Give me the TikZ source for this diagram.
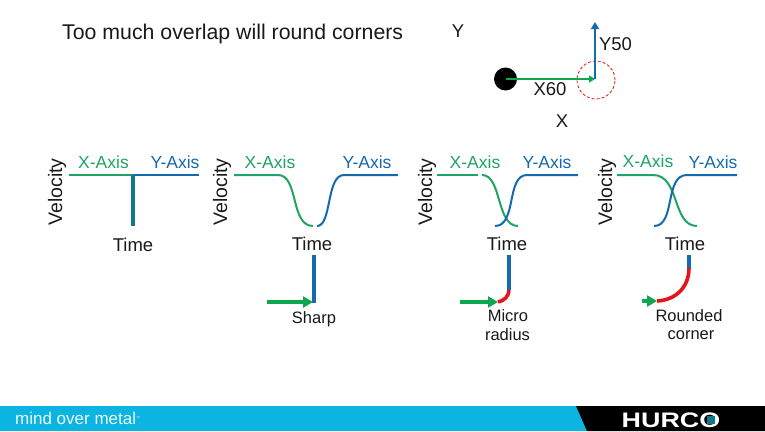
\documentclass[tikz,border=0pt]{standalone}
\usepackage{fontspec}
\setmainfont{Liberation Sans}
\usepackage{xcolor}
\usepackage{tikz}
\usetikzlibrary{calc,positioning,arrows.meta}
\definecolor{xgreen}{HTML}{1FA463}
\definecolor{ygreen}{HTML}{0FA650}
\definecolor{yblue}{HTML}{1569AE}
\definecolor{teal2}{HTML}{11788C}
\definecolor{cornerred}{HTML}{E2141C}
\definecolor{barcyan}{HTML}{0CB4E2}
\begin{document}
\begin{tikzpicture}[x=1pt,y=-1pt, node distance = 0mm,
  label/.style={font=\fontsize{18.5}{20}\selectfont,inner sep=0pt,text=black!90},
  xlabel/.style={font=\fontsize{17.5}{20}\selectfont,inner sep=0pt,text=xgreen},
  ylabel/.style={font=\fontsize{17.5}{20}\selectfont,inner sep=0pt,text=yblue},
  vel/.style={font=\fontsize{19.5}{20}\selectfont,inner sep=0pt,rotate=90,text=black!90},
  note/.style={font=\fontsize{16.5}{20}\selectfont,inner sep=0pt,text=black!90},
  xcurve/.style={draw=xgreen,line width=2pt},
  ycurve/.style={draw=yblue,line width=2pt},
  xpath/.style={draw=ygreen,line width=3.4pt,-{Triangle[length=10pt,width=11pt]}},
  ypath/.style={draw=yblue,line width=3.6pt},
  radius/.style={draw=cornerred,line width=3.6pt}]
\useasboundingbox (0,0) rectangle (765,431);
% footer
\fill[barcyan] (0,406) rectangle (765,431);
\fill[black] (576,406) -- (765,406) -- (765,431) -- (587,431) -- cycle;
\node (motto) [anchor=west,inner sep=0pt,text=white!92!barcyan,font=\fontsize{17}{18}\selectfont] at (15,418.5) {mind over metal\raisebox{5pt}{\fontsize{4}{4}\selectfont ™}};
\node (logo) [inner sep=0pt,text=white,font=\fontsize{21}{22}\selectfont\bfseries,xscale=1.28] at (671,420) {HURCO};
\fill[teal2] (707,415.5) rectangle (715,423.5);
% title
\node (title) [anchor=west,inner sep=0pt,text=black!90,font=\fontsize{21.3}{24}\selectfont] at (62,34) {Too much overlap will round corners};
% move
\node (axisY) [label] at (458,31) {Y};
\node (start) [circle,fill=black,minimum size=23pt,inner sep=0pt] at (505.5,79) {};
\coordinate (turn) at (595,79);
\coordinate (endY) at (595,22);
\node (zone) [circle,draw=cornerred,densely dashed,line width=0.8pt,minimum size=38pt,inner sep=0pt] at (596,80) {};
\draw[draw=ygreen,line width=2.2pt,-{Triangle[length=6pt,width=7pt]}] (start.center) -- (turn);
\draw[draw=yblue,line width=2.2pt,-{Triangle[length=7pt,width=8pt]}] (turn) -- (endY);
\node (labX) [label] at (550,89) {X60};
\node (labY) [label] at (615.5,44) {Y50};
\node (axisX) [label] at (562,121) {X};
% first graph
\node (velA) [vel] at (57,192) {Velocity};
\node (xA) [xlabel] at (103.5,162) {X-Axis};
\node (yA) [ylabel] at (175,162) {Y-Axis};
\coordinate (a0) at (69,175);
\coordinate (a1) at (133,175);
\coordinate (a2) at (199,175);
\coordinate (a3) at (133,226);
\draw[xcurve] (a0) -- (a1);
\draw[ycurve] (a1) -- (a2);
\draw[draw=teal2,line width=3.2pt] (a1) -- (a3);
\node (timeA) [label] at (133,245) {Time};
% second graph
\node (velB) [vel] at (222,192) {Velocity};
\node (xB) [xlabel] at (270,162) {X-Axis};
\node (yB) [ylabel] at (367,162) {Y-Axis};
\coordinate (b0) at (234,175);
\coordinate (b1) at (278,175);
\coordinate (b2) at (313,226);
\coordinate (b3) at (317,226);
\coordinate (b4) at (344,175);
\coordinate (b5) at (398,175);
\draw[xcurve] (b0) -- (b1) .. controls (299,175) and (290,226) .. (b2);
\draw[ycurve] (b3) .. controls (332,226) and (326,175) .. (b4) -- (b5);
\node (timeB) [label] at (312,244) {Time};
\coordinate (b6) at (314,255);
\coordinate (b7) at (314,303);
\coordinate (b8) at (267,302);
\draw[ypath] (b6) -- (b7);
\draw[xpath] (b8) -- (313,302);
\node (sharp) [note] at (314,319.5) {Sharp};
% third graph
\node (velC) [vel] at (427,192) {Velocity};
\node (xC) [xlabel] at (475,162) {X-Axis};
\node (yC) [ylabel] at (547,162) {Y-Axis};
\coordinate (c0) at (437,175);
\coordinate (c1) at (478,175);
\coordinate (c2) at (482,175);
\coordinate (c3) at (518,226);
\coordinate (c4) at (495,226);
\coordinate (c5) at (527,175);
\coordinate (c6) at (578,175);
\draw[xcurve] (c0) -- (c1);
\draw[xcurve] (c2) .. controls (502,175) and (496,226) .. (c3);
\draw[ycurve] (c4) .. controls (517,226) and (506,175) .. (c5) -- (c6);
\node (timeC) [label] at (507,244) {Time};
\coordinate (c7) at (509,255);
\coordinate (c8) at (509,290);
\coordinate (c9) at (498,302);
\coordinate (c10) at (460,302);
\draw[ypath] (c7) -- (c8);
\draw[radius] (c8) .. controls (509,296) and (504,301) .. (c9);
\draw[xpath] (c10) -- (c9);
\node (micro) [note] at (508,316) {Micro};
\node (radiusC) [note] at (507.5,335) {radius};
% fourth graph
\node (velD) [vel] at (607,192) {Velocity};
\node (xD) [xlabel] at (648,161) {X-Axis};
\node (yD) [ylabel] at (713,162) {Y-Axis};
\coordinate (d0) at (617,175);
\coordinate (d1) at (653,175);
\coordinate (d2) at (697,226);
\coordinate (d3) at (654,226);
\coordinate (d4) at (687,175);
\coordinate (d5) at (737,175);
\draw[xcurve] (d0) -- (d1) .. controls (680,175) and (672,226) .. (d2);
\draw[ycurve] (d3) .. controls (676,226) and (664,175) .. (d4) -- (d5);
\node (timeD) [label] at (685,244) {Time};
\coordinate (d6) at (689,255);
\coordinate (d7) at (689,268);
\coordinate (d8) at (657,301);
\coordinate (d9) at (642,301);
\draw[ypath] (d6) -- (d7);
\draw[radius] (d7) .. controls (689,287) and (676,300) .. (d8);
\draw[xpath] (d9) -- (d8);
\node (rounded) [note] at (689,316) {Rounded};
\node (cornerD) [note] at (691,335) {corner};
\end{tikzpicture}
\end{document}
